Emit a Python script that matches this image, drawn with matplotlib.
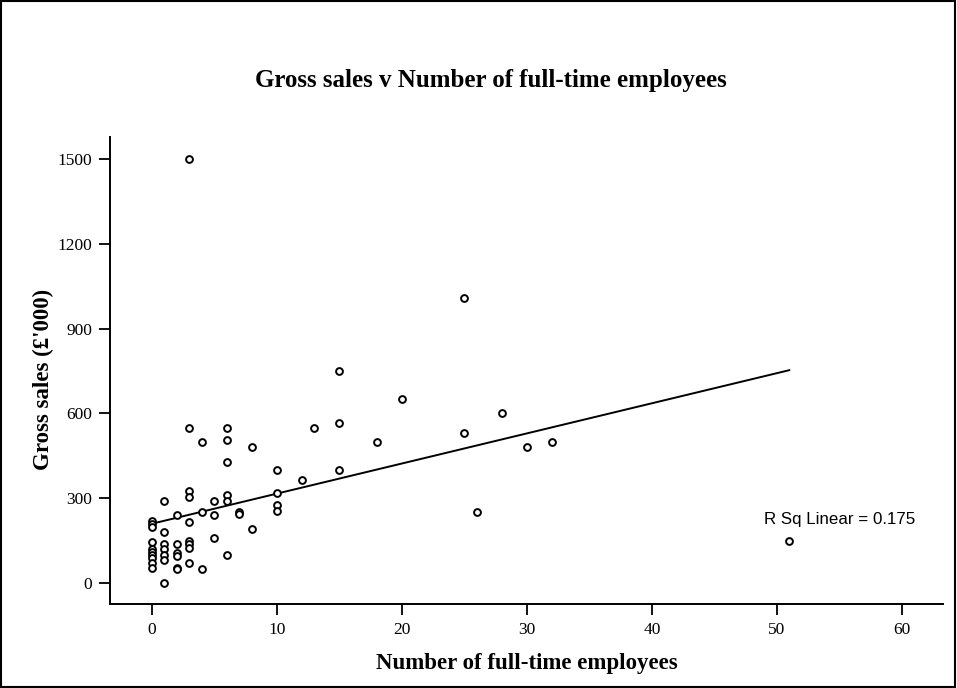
import matplotlib
matplotlib.use("Agg")
import matplotlib.pyplot as plt
from matplotlib.patches import Rectangle

# --- data ---
employees = [0, 0, 0, 0, 0, 0, 0, 0, 0, 0,
             1, 1, 1, 1, 1, 1, 1,
             2, 2, 2, 2, 2, 2,
             3, 3, 3, 3, 3, 3, 3, 3, 3,
             4, 4, 4,
             5, 5, 5,
             6, 6, 6, 6, 6, 6,
             7, 7,
             8, 8,
             10, 10, 10, 10,
             12, 13,
             15, 15, 15,
             18, 20,
             25, 25, 26, 28, 30, 32, 51]
gross_sales = [220, 210, 200, 145, 120, 110, 100, 90, 70, 55,
               290, 180, 140, 120, 100, 80, 0,
               240, 140, 105, 95, 55, 50,
               1500, 550, 325, 305, 215, 150, 140, 125, 70,
               500, 250, 50,
               290, 240, 160,
               550, 505, 430, 310, 290, 100,
               250, 245,
               480, 190,
               400, 320, 275, 255,
               365, 550,
               750, 565, 400,
               500, 650,
               1010, 530, 250, 600, 480, 500, 150]

# fit line as shown in the reference
FIT_INTERCEPT = 210
FIT_SLOPE = 10.65
R_SQ_TEXT = "R Sq Linear = 0.175"

x_ticks = [0, 10, 20, 30, 40, 50, 60]
y_ticks = [0, 300, 600, 900, 1200, 1500]

SERIF = "Liberation Serif"

W, H = 957, 688
fig = plt.figure(figsize=(W / 100, H / 100), dpi=100)
fig.patches.append(Rectangle((0.001, 0.001), 0.997, 0.997, transform=fig.transFigure,
                             fill=False, edgecolor="black", linewidth=1.5))

# axes box in pixels: left 110, right 943, top 137, bottom 604
ax = fig.add_axes([110 / W, 1 - 604 / H, (943 - 110) / W, (604 - 137) / H])
ax.set_xlim(-3.36, 63.3)
ax.set_ylim(-74, 1578)

ax.scatter(employees, gross_sales, s=24, facecolors="white", edgecolors="black",
           linewidths=1.4, zorder=3)

x_fit = [min(employees), max(employees)]
y_fit = [FIT_INTERCEPT + FIT_SLOPE * v for v in x_fit]
ax.plot(x_fit, y_fit, color="black", linewidth=1.4, zorder=2)

ax.text(55.0, 226, R_SQ_TEXT, fontsize=12.2, family="Liberation Sans",
        ha="center", va="center")

for side in ["top", "right"]:
    ax.spines[side].set_visible(False)
for side in ["left", "bottom"]:
    ax.spines[side].set_linewidth(1.4)

ax.set_xticks(x_ticks)
ax.set_yticks(y_ticks)
ax.tick_params(direction="out", length=8, width=1.3, labelsize=12.5, pad=5)
for lab in ax.get_xticklabels() + ax.get_yticklabels():
    lab.set_family(SERIF)

ax.set_xlabel("Number of full-time employees", fontsize=16.5, fontweight="bold",
              family=SERIF, labelpad=11)
ax.set_ylabel("Gross sales (£'000)", fontsize=16.5, fontweight="bold",
              family=SERIF)
ax.yaxis.set_label_coords(-0.067, 0.48)

fig.text(0.513, 1 - 80 / H, "Gross sales v Number of full-time employees",
         fontsize=18, fontweight="bold", family=SERIF,
         ha="center", va="center")

fig.savefig("out.png", dpi=100)
